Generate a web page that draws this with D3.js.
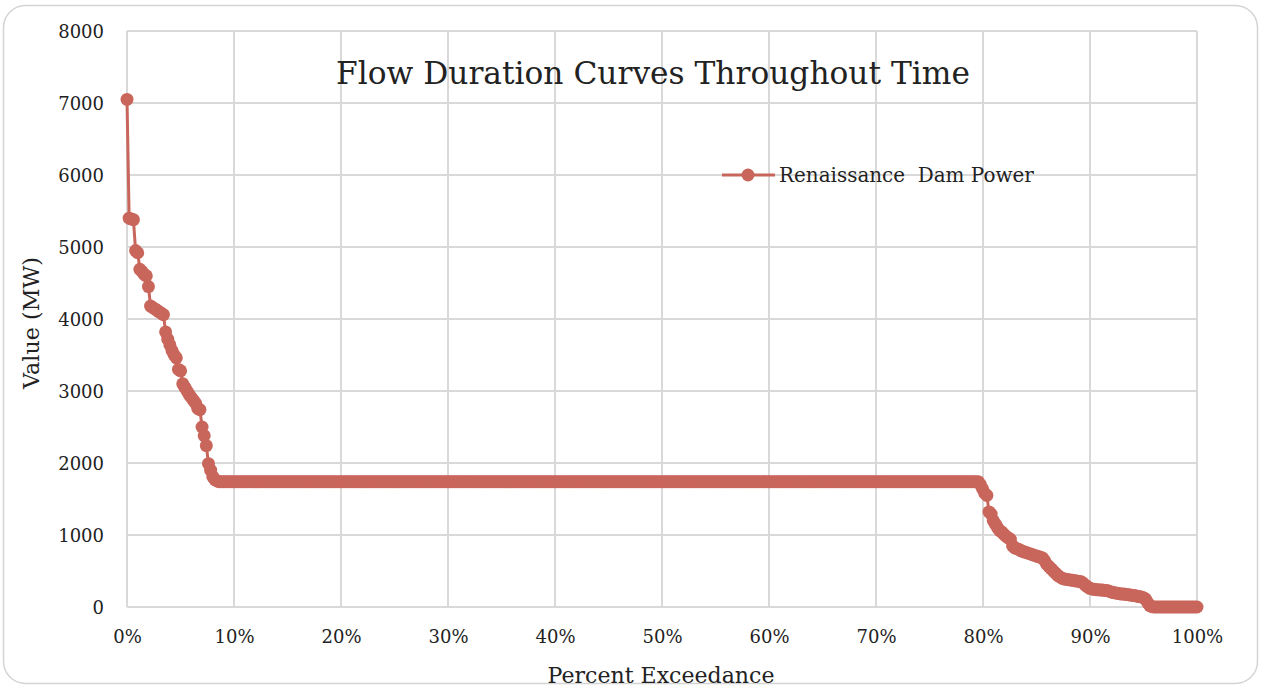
<!DOCTYPE html>
<html>
<head>
<meta charset="utf-8">
<script src="https://cdn.jsdelivr.net/npm/d3@7"></script>
<style>
  body { margin: 0; background: #fff; }
  text { font-family: "DejaVu Serif", "Liberation Serif", serif; fill: #222; }
</style>
</head>
<body>
<div id="chart"></div>
<script>
// Sorted values (MW), as runs of [value, count]; exceedance = rank / (N - 1)
const valueRuns = [
  [7050, 1], [5400, 1], [5390, 1], [5380, 1], [4950, 1], [4920, 1],
  [4690, 1], [4660, 1], [4620, 1], [4600, 1], [4450, 1], [4180, 1],
  [4160, 1], [4140, 1], [4120, 1], [4100, 1], [4080, 1], [4060, 1],
  [3820, 1], [3720, 1], [3640, 1], [3560, 1], [3500, 1], [3460, 1],
  [3300, 1], [3280, 1], [3100, 1], [3050, 1], [3000, 1], [2950, 1],
  [2910, 1], [2870, 1], [2830, 1], [2760, 1], [2740, 1], [2500, 1],
  [2380, 1], [2240, 1], [1990, 1], [1900, 1], [1810, 1], [1770, 1],
  [1750, 1],
  [1740, 355],
  [1700, 1], [1640, 1], [1580, 1], [1550, 1], [1320, 1], [1290, 1],
  [1200, 1], [1150, 1], [1100, 1], [1060, 1], [1040, 1], [1010, 1],
  [980, 1], [960, 1], [940, 1], [850, 1], [820, 1], [810, 1],
  [800, 1], [780, 1], [770, 1], [760, 1], [750, 1], [740, 1],
  [730, 1], [720, 1], [710, 1], [700, 1], [690, 1], [680, 1],
  [640, 1], [590, 1], [560, 1], [530, 1], [500, 1], [470, 1],
  [440, 1], [420, 1], [400, 1], [390, 1], [385, 1], [380, 1],
  [375, 1], [370, 1], [365, 1], [360, 1], [355, 1], [350, 1],
  [330, 1], [300, 1], [280, 1], [260, 1], [250, 1], [245, 1],
  [240, 2], [235, 2], [230, 2], [220, 1], [210, 1], [200, 1],
  [195, 1], [190, 1], [185, 1], [180, 2], [175, 1], [170, 1],
  [165, 1], [160, 2], [150, 1], [145, 1], [140, 1], [130, 1],
  [110, 1], [60, 1], [20, 1], [5, 1],
  [0, 21]
];
const yTicks = [0, 1000, 2000, 3000, 4000, 5000, 6000, 7000, 8000];
const xTicks = [0, 0.1, 0.2, 0.3, 0.4, 0.5, 0.6, 0.7, 0.8, 0.9, 1];
const seriesName = "Renaissance  Dam Power";

const values = [];
valueRuns.forEach(function (r) {
  for (let k = 0; k < r[1]; k++) values.push(r[0]);
});
const data = values.map((v, i) => ({ p: i / (values.length - 1), v: v }));

const W = 1261, H = 689;
const margin = { top: 31, right: 64, bottom: 82, left: 127 };
const width = W - margin.left - margin.right,
  height = H - margin.top - margin.bottom;
const color = "#c9665c", grid = "#d9d9d9";

// ajuste la taille de police pour une largeur donnee
function fit(sel, target) {
  const fs = parseFloat(sel.style("font-size"));
  const w = sel.node().getComputedTextLength();
  sel.style("font-size", (fs * target / w).toFixed(2) + "px");
}

const root = d3.select("#chart").append("svg").attr("width", W).attr("height", H);

root.append("rect")
  .attr("x", 3.5).attr("y", 5.5).attr("width", 1254).attr("height", 678)
  .attr("rx", 22).attr("fill", "#fff").attr("stroke", "#d4d4d4").attr("stroke-width", 1.5);

const svg = root.append("g")
  .attr("transform", "translate(" + margin.left + "," + margin.top + ")");

const x = d3.scaleLinear().domain([0, 1]).range([0, width]);
const y = d3.scaleLinear().domain([0, 8000]).range([height, 0]);

// grille
svg.selectAll(".hgrid").data(yTicks).enter().append("line")
  .attr("x1", 0).attr("x2", width)
  .attr("y1", d => y(d)).attr("y2", d => y(d))
  .attr("stroke", grid).attr("stroke-width", 2);
svg.selectAll(".vgrid").data(xTicks).enter().append("line")
  .attr("x1", d => x(d)).attr("x2", d => x(d))
  .attr("y1", 0).attr("y2", height)
  .attr("stroke", grid).attr("stroke-width", 2);

// axes
const yAxis = svg.append("g")
  .call(d3.axisLeft(y).tickValues(yTicks).tickSize(0).tickPadding(23).tickFormat(d3.format("d")));
yAxis.select(".domain").remove();
yAxis.selectAll("text").attr("font-family", null).style("font-size", "18px").attr("fill", "#222").attr("dy", "0.36em");

const xAxis = svg.append("g")
  .attr("transform", "translate(0," + height + ")")
  .call(d3.axisBottom(x).tickValues(xTicks).tickSize(0).tickPadding(23).tickFormat(d3.format(".0%")));
xAxis.select(".domain").remove();
xAxis.selectAll("text").attr("font-family", null).style("font-size", "18px").attr("fill", "#222");

// serie
const line = d3.line().x(d => x(d.p)).y(d => y(d.v));
svg.append("path").datum(data)
  .attr("d", line).attr("fill", "none")
  .attr("stroke", color).attr("stroke-width", 3);
svg.selectAll(".pt").data(data).enter().append("circle")
  .attr("cx", d => x(d.p)).attr("cy", d => y(d.v))
  .attr("r", 6.5).attr("fill", color);

// titre
const title = root.append("text")
  .attr("x", 653).attr("y", 84)
  .attr("text-anchor", "middle")
  .style("font-size", "30px")
  .text("Flow Duration Curves Throughout Time");
fit(title, 634);

// legende
root.append("line")
  .attr("x1", 722).attr("x2", 775).attr("y1", 175).attr("y2", 175)
  .attr("stroke", color).attr("stroke-width", 3);
root.append("circle").attr("cx", 748).attr("cy", 175).attr("r", 6.5).attr("fill", color);
const leg = root.append("text")
  .attr("x", 779).attr("y", 182)
  .style("font-size", "18px")
  .attr("xml:space", "preserve")
  .text(seriesName);
fit(leg, 255);

// titres des axes
const yt = root.append("text")
  .attr("transform", "translate(39,323) rotate(-90)")
  .attr("text-anchor", "middle")
  .style("font-size", "20px")
  .text("Value (MW)");
fit(yt, 132);
const xt = root.append("text")
  .attr("x", 661).attr("y", 683)
  .attr("text-anchor", "middle")
  .style("font-size", "20px")
  .text("Percent Exceedance");
fit(xt, 227);
</script>
</body>
</html>
